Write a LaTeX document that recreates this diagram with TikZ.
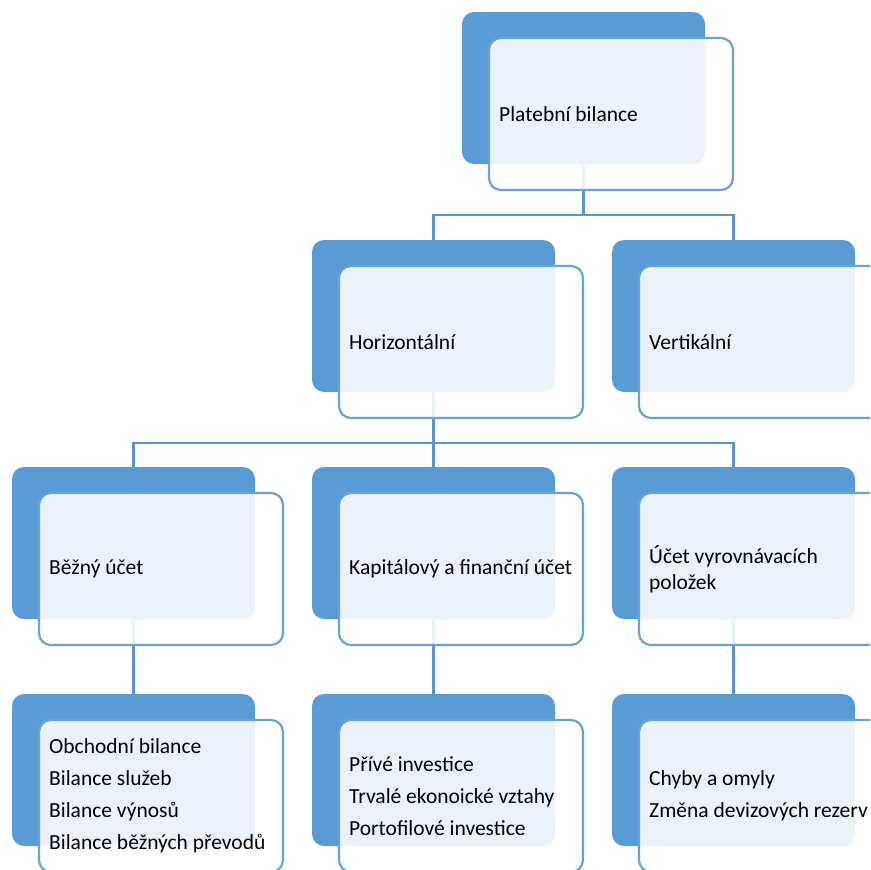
\documentclass[tikz,border=0pt]{standalone}
\usepackage{fontspec}
\setmainfont{Carlito}
\definecolor{bblue}{HTML}{5B9BD5}
\definecolor{fblue}{HTML}{67A2D9}
\definecolor{lblue}{HTML}{5A95CF}
\begin{document}
\begin{tikzpicture}[x=1pt,y=-1pt,
  back/.style={fill=bblue, rounded corners=12pt, minimum width=243pt, minimum height=152pt, inner sep=0pt, outer sep=0pt, anchor=north west},
  front/.style={fill=white, fill opacity=0.88, draw=fblue, draw opacity=1, line width=2.2pt, rounded corners=12pt, minimum width=244pt, minimum height=152pt, inner sep=0pt, outer sep=0pt, anchor=north west},
  txt/.style={anchor=west, align=left, inner sep=0pt, text=black, font=\fontsize{21.5}{25.5}\selectfont},
  conn/.style={draw=lblue, line width=2.2pt}]
\useasboundingbox (0,0) rectangle (870,870);
\clip (0,0) rectangle (870,870);
% back boxes
\node[back] (b0) at (462,12) {};
\node[back] (b1) at (312,240) {};
\node[back] (b2) at (612,240) {};
\node[back] (b3) at (12,467) {};
\node[back] (b4) at (312,467) {};
\node[back] (b5) at (612,467) {};
\node[back] (b6) at (12,694) {};
\node[back] (b7) at (312,694) {};
\node[back] (b8) at (612,694) {};
% connectors
\coordinate (j0) at (583.5,215);
\coordinate (j1) at (433.5,443);
\draw[conn] (b0.south) -- (b0.south |- j0);
\draw[conn] (b1.north) |- (b0.south |- j0) -| (b2.north);
\draw[conn] (b1.south) -- (b1.south |- j1);
\draw[conn] (b3.north) |- (b1.south |- j1) -| (b5.north);
\draw[conn] (b1.south |- j1) -- (b4.north);
\draw[conn] (b3.south) -- (b6.north);
\draw[conn] (b4.south) -- (b7.north);
\draw[conn] (b5.south) -- (b8.north);
% front boxes
\node[front] (f0) at (489,38) {};
\node[front] (f1) at (339,266) {};
\node[front] (f2) at (639,266) {};
\node[front] (f3) at (39,493) {};
\node[front] (f4) at (339,493) {};
\node[front] (f5) at (639,493) {};
\node[front] (f6) at (39,720) {};
\node[front] (f7) at (339,720) {};
\node[front] (f8) at (639,720) {};
% texts
\node[txt] (t0) at ([xshift=10pt]f0.west) {Platební bilance};
\node[txt] (t1) at ([xshift=10pt]f1.west) {Horizontální};
\node[txt] (t2) at ([xshift=10pt]f2.west) {Vertikální};
\node[txt] (t3) at ([xshift=10pt]f3.west) {Běžný účet};
\node[txt] (t4) at ([xshift=10pt]f4.west) {Kapitálový a finanční účet};
\node[txt] (t5) at ([xshift=10pt]f5.west) {Účet vyrovnávacích\\položek};
\node[txt] (t6) at ([xshift=10pt]f6.west) {Obchodní bilance\\[6.5pt]Bilance služeb\\[6.5pt]Bilance výnosů\\[6.5pt]Bilance běžných převodů};
\node[txt] (t7) at ([xshift=10pt]f7.west) {Přívé investice\\[6.5pt]Trvalé ekonoické vztahy\\[6.5pt]Portofilové investice};
\node[txt] (t8) at ([xshift=10pt]f8.west) {Chyby a omyly\\[6.5pt]Změna devizových rezerv};
\end{tikzpicture}
\end{document}
